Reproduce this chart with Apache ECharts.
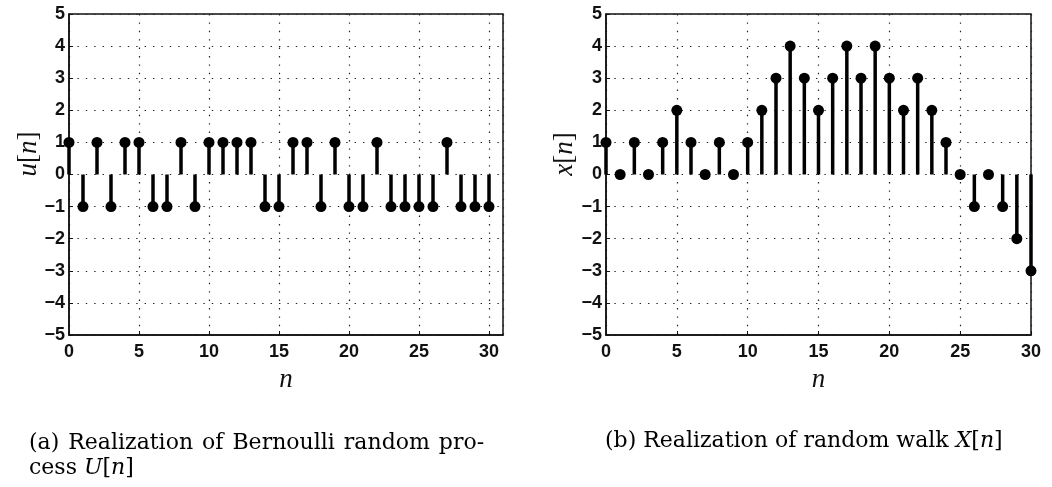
<!DOCTYPE html>
<html>
<head>
<meta charset="utf-8">
<style>
  html, body { margin: 0; padding: 0; background: #fff; }
  #chart { width: 1052px; height: 487px; }
</style>
<script src="https://cdn.jsdelivr.net/npm/echarts@6/dist/echarts.min.js"></script>
</head>
<body>
<div id="chart"></div>
<script>
// Sample index n = 0..30
const nValues = [0,1,2,3,4,5,6,7,8,9,10,11,12,13,14,15,16,17,18,19,20,21,22,23,24,25,26,27,28,29,30];
// Bernoulli process u[n] (±1)
const uValues = [1,-1,1,-1,1,1,-1,-1,1,-1,1,1,1,1,-1,-1,1,1,-1,1,-1,-1,1,-1,-1,-1,-1,1,-1,-1,-1];
// Random walk x[n]
const xValues = [1,0,1,0,1,2,1,0,1,0,1,2,3,4,3,2,3,4,3,4,3,2,3,2,1,0,-1,0,-1,-2,-3];
// Axis tick settings
const yTickMin = -5, yTickMax = 5, yTickStep = 1;
const xTickStep = 5;

const tickFont = { fontFamily: 'Liberation Sans, Arial, sans-serif', fontSize: 18, fontWeight: 'bold', color: '#111' };
const mathFont = 'Liberation Serif, Times New Roman, serif';
const capFont = 'DejaVu Serif, serif';

function pairs(xs, ys) { return xs.map((x, i) => [x, ys[i]]); }

function xAxisCfg(gridIndex, maxVal) {
  return {
    type: 'value', gridIndex, min: 0, max: maxVal, interval: xTickStep,
    name: 'n', nameLocation: 'middle', nameGap: 31,
    nameTextStyle: { fontFamily: mathFont, fontStyle: 'italic', fontSize: 27, color: '#111' },
    axisLine: { show: true, onZero: false, lineStyle: { color: '#111', width: 1.5 } },
    axisTick: { show: true, inside: true, length: 4, lineStyle: { color: '#111' } },
    axisLabel: Object.assign({ margin: 8, showMaxLabel: maxVal % xTickStep === 0,
      formatter: v => (v % xTickStep === 0 ? String(v) : '') }, tickFont),
    splitLine: { show: true, lineStyle: { color: '#222', width: 1.2, type: [1.4, 7] } }
  };
}

function yAxisCfg(gridIndex) {
  return {
    type: 'value', gridIndex, min: yTickMin, max: yTickMax, interval: yTickStep,
    axisLine: { show: true, onZero: false, lineStyle: { color: '#111', width: 1.5 } },
    axisTick: { show: true, inside: true, length: 4, lineStyle: { color: '#111' } },
    axisLabel: Object.assign({ margin: 4, formatter: v => String(v).replace('-', '\u2212') }, tickFont),
    splitLine: { show: true, lineStyle: { color: '#222', width: 1.2, type: [1.4, 7] } }
  };
}

function stemSeries(idx, data) {
  return {
    type: 'custom', xAxisIndex: idx, yAxisIndex: idx, data, silent: true,
    renderItem(params, api) {
      const n = api.value(0);
      const p0 = api.coord([n, 0]);
      const p1 = api.coord([n, api.value(1)]);
      return { type: 'line', shape: { x1: p0[0], y1: p0[1], x2: p1[0], y2: p1[1] },
               style: { stroke: '#000', lineWidth: 3.5 } };
    }
  };
}

function headSeries(idx, data) {
  return {
    type: 'scatter', xAxisIndex: idx, yAxisIndex: idx, data, symbol: 'circle',
    symbolSize: 11, itemStyle: { color: '#000', opacity: 1 }, silent: true, z: 3
  };
}

const rich = {
  i: { fontFamily: mathFont, fontStyle: 'italic', fontSize: 27, fill: '#111', color: '#111' },
  r: { fontFamily: mathFont, fontSize: 27, fill: '#111', color: '#111' }
};
const capRich = {
  c: { fontFamily: capFont, fontSize: 22, color: '#111' },
  ci: { fontFamily: capFont, fontStyle: 'italic', fontSize: 22, color: '#111' },
  s: { fontFamily: capFont, fontSize: 22, width: 9 }
};

const chart = echarts.init(document.getElementById('chart'), null, { renderer: 'canvas' });
chart.setOption({
  backgroundColor: '#fff',
  animation: false,
  grid: [
    { left: 69, top: 14, width: 434, height: 321, show: true, borderColor: '#111', borderWidth: 1.5 },
    { left: 606, top: 14, width: 425, height: 321, show: true, borderColor: '#111', borderWidth: 1.5 }
  ],
  xAxis: [xAxisCfg(0, 31), xAxisCfg(1, 30)],
  yAxis: [yAxisCfg(0), yAxisCfg(1)],
  series: [
    stemSeries(0, pairs(nValues, uValues)),
    headSeries(0, pairs(nValues, uValues)),
    stemSeries(1, pairs(nValues, xValues)),
    headSeries(1, pairs(nValues, xValues))
  ],
  graphic: [
    { type: 'text', x: 29, y: 154, rotation: Math.PI / 2,
      style: { text: '{i|u}{r|[}{i|n}{r|]}', rich, align: 'center', verticalAlign: 'middle' } },
    { type: 'text', x: 565, y: 154, rotation: Math.PI / 2,
      style: { text: '{i|x}{r|[}{i|n}{r|]}', rich, align: 'center', verticalAlign: 'middle' } },
    { type: 'text', x: 29, y: 443,
      style: { text: '{c|(a)}{s| }{c|Realization}{s| }{c|of}{s| }{c|Bernoulli}{s| }{c|random}{s| }{c|pro-}',
               rich: capRich, verticalAlign: 'middle' } },
    { type: 'text', x: 29, y: 468,
      style: { text: '{c|cess }{ci|U}{c|[}{ci|n}{c|]}', rich: capRich, verticalAlign: 'middle' } },
    { type: 'text', x: 605, y: 441,
      style: { text: '{c|(b) Realization of random walk }{ci|X}{c|[}{ci|n}{c|]}', rich: capRich, verticalAlign: 'middle' } }
  ]
});
</script>
</body>
</html>
